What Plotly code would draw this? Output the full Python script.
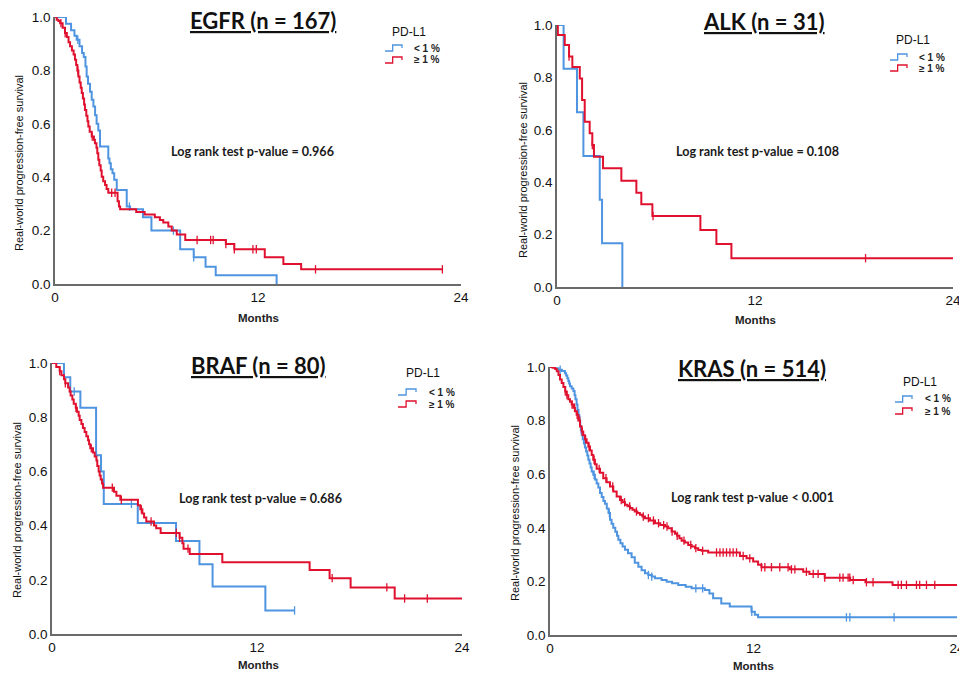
import plotly.graph_objects as go

VW, VH = 967, 681          # browser window
BODY = 8                   # default page margin around the plot div
W, H = VW - BODY, VH - 2 * BODY   # fits the window without scrolling
BLUE = "#4f94e0"
RED = "#e0112f"

# ---------------- data (months, survival probability) ----------------
egfr_lo_t = [0, 0.65, 0.95, 1.15, 1.28, 1.45, 1.6, 1.7, 1.8, 1.87, 1.95, 2.07, 2.17, 2.27, 2.37, 2.46, 2.56, 2.66, 3.15, 3.22,
             3.3, 3.4, 3.5, 3.65, 4.24, 4.44, 5.2, 5.7, 7.4, 8.2, 8.9, 9.5, 13.1]
egfr_lo_s = [1.0, .975, .95, .93, .915, .89, .865, .85, .815, .777, .75, .72, .69, .665, .632, .60, .575, .515, .47, .452,
             .43, .415, .39, .352, .29, .28, .25, .20, .13, .10, .065, .033, 0.0]
egfr_lo_c = [1.35, 4.4, 7.0, 8.2]
egfr_hi_t = [0, 0.1, 0.2, 0.3, 0.45, 0.59, 0.7, 0.8, 0.89, 1.0, 1.1, 1.18, 1.25, 1.32, 1.38, 1.45, 1.52, 1.58, 1.65, 1.72,
             1.77, 1.85, 1.92, 1.97, 2.05, 2.17, 2.3, 2.36, 2.45, 2.5, 2.56, 2.62, 2.7, 2.76, 2.85, 2.96, 3.05, 3.15, 3.7, 3.78,
             3.85, 4.8, 5.3, 5.9, 6.2, 6.4, 6.7, 6.9, 7.2, 7.7, 10.1, 10.6, 12.4, 13.5, 14.55, 22.9]
egfr_hi_s = [1.0, .99, .985, .977, .96, .94, .925, .905, .89, .875, .86, .84, .82, .80, .777, .755, .735, .715, .695, .672,
             .652, .63, .61, .59, .57, .552, .54, .527, .51, .49, .465, .445, .425, .402, .385, .371, .356, .342, .31, .29,
             .28, .27, .26, .25, .24, .23, .215, .20, .185, .165, .15, .13, .10, .075, .055, .055]
egfr_hi_c = [0.35, 0.6, 1.35, 2.2, 3.35, 3.55, 8.4, 9.2, 9.35, 10.1, 10.6, 11.7, 11.9, 15.4, 22.9]

alk_lo_t = [0, 0.4, 1.21, 1.6, 2.59, 2.73, 3.96]
alk_lo_s = [1.0, 0.833, 0.667, 0.5, 0.333, 0.167, 0.0]
alk_lo_c = []
alk_hi_t = [0, 0.05, 0.47, 0.73, 0.93, 1.38, 1.52, 1.68, 1.98, 2.14, 2.24, 2.79, 3.9, 4.81, 5.11, 5.78, 8.69, 9.66, 10.57, 24]
alk_hi_s = [1.0, .962, .924, .88, .84, .796, .714, .631, .587, .542, .497, .453, .406, .36, .316, .271, .218, .164, .11, .11]
alk_hi_c = [0.73, 2.14, 5.82, 18.7]

braf_lo_t = [0, 0.7, 1.07, 1.66, 2.58, 2.87, 3.03, 5.02, 7.26, 8.63, 9.4, 12.49, 14.2]
braf_lo_s = [1.0, .947, .895, .835, .66, .60, .48, .41, .343, .257, .175, .087, .087]
braf_lo_c = [1.3, 2.6, 4.65, 14.2]
braf_hi_t = [0, .25, .45, .55, .70, .78, .94, 1.03, 1.09, 1.19, 1.27, 1.39, 1.46, 1.56, 1.62, 1.72, 1.81, 1.91, 2.01, 2.11,
             2.17, 2.24, 2.40, 2.50, 2.60, 2.65, 2.73, 2.79, 2.85, 2.93, 2.99, 3.63, 3.77, 4.0, 5.03, 5.17, 5.29, 5.39, 5.52, 5.97,
             6.1, 6.36, 7.47, 7.63, 7.7, 8.06, 9.97, 15.08, 16.25, 17.48, 20.06, 24]
braf_hi_s = [1.0, .985, .97, .955, .94, .925, .91, .895, .88, .865, .85, .835, .82, .805, .79, .775, .76, .745, .73, .715,
             .70, .685, .67, .655, .64, .62, .60, .585, .57, .555, .54, .525, .51, .495, .475, .46, .445, .43, .415, .40,
             .39, .373, .355, .335, .315, .295, .265, .236, .206, .172, .131, .131]
braf_hi_c = [0.45, 0.78, 1.4, 2.3, 3.53, 4.06, 5.23, 5.8, 7.28, 7.47, 7.96, 16.4, 19.6, 20.64, 21.97]

kras_lo_t = [0, .3, .5, .7, .88, .95, 1.02, 1.08, 1.13, 1.18, 1.28, 1.38, 1.45, 1.5, 1.57, 1.62, 1.68, 1.73, 1.78, 1.82,
             1.87, 1.93, 2.0, 2.06, 2.13, 2.2, 2.26, 2.33, 2.4, 2.46, 2.55, 2.65, 2.75, 2.85, 2.95, 3.05, 3.15, 3.24, 3.35, 3.45,
             3.54, 3.63, 3.73, 3.85, 3.95, 4.03, 4.15, 4.28, 4.42, 4.6, 4.81, 5.0, 5.21, 5.4, 5.6, 5.8, 6.0, 6.19, 6.58, 6.88,
             7.2, 7.56, 8.0, 8.35, 9.13, 9.4, 9.62, 10.1, 10.6, 11.88, 12.08, 12.27, 24]
kras_lo_s = [1.0, .995, .99, .985, .977, .968, .958, .948, .938, .928, .92, .91, .895, .88, .86, .84, .82, .80, .78, .765,
             .747, .73, .715, .70, .685, .67, .654, .64, .625, .61, .598, .58, .565, .55, .53, .515, .50, .49, .472, .455,
             .43, .415, .40, .385, .37, .355, .342, .33, .318, .305, .29, .27, .255, .242, .23, .224, .218, .212, .205, .199,
             .193, .187, .18, .174, .168, .155, .137, .118, .106, .087, .076, .066, .066]
kras_lo_c = [0.6, 1.75, 1.85, 2.6, 3.5, 5.8, 6.0, 8.6, 9.0, 11.9, 17.48, 17.68, 20.29]
kras_hi_t = [0, .15, .3, .4, .5, .59, .69, .79, .9, .98, 1.08, 1.18, 1.28, 1.38, 1.47, 1.57, 1.67, 1.77, 1.87, 1.96,
             2.06, 2.16, 2.26, 2.36, 2.46, 2.55, 2.65, 2.75, 2.95, 3.14, 3.34, 3.54, 3.73, 3.93, 4.13, 4.28, 4.42, 4.57, 4.72, 4.86,
             5.0, 5.15, 5.3, 5.45, 5.6, 5.9, 6.19, 6.5, 6.78, 6.97, 7.17, 7.37, 7.5, 7.63, 7.76, 7.95, 8.15, 8.35, 8.55, 8.74,
             8.94, 9.33, 11.2, 11.59, 11.98, 12.27, 12.47, 14.14, 14.93, 15.3, 16.2, 17.7, 18.6, 20.2, 24]
kras_hi_s = [1.0, .997, .993, .984, .97, .953, .94, .925, .909, .895, .88, .87, .86, .848, .835, .822, .8, .778, .759, .745,
             .73, .717, .703, .688, .672, .654, .637, .62, .605, .585, .57, .554, .535, .517, .504, .495, .486, .48, .474, .467,
             .461, .455, .449, .442, .436, .427, .417, .41, .405, .398, .386, .378, .37, .361, .352, .345, .336, .33, .324, .3175,
             .314, .308, .295, .286, .274, .262, .253, .245, .236, .228, .214, .205, .197, .187, .187]
kras_hi_c = [0.9, 1.0, 1.3, 1.45, 1.6, 1.75, 1.9, 2.1, 2.3, 2.6, 2.9, 3.3, 3.7, 4.2, 4.4, 4.7, 5.1, 5.5, 5.8, 6.1, 6.4,
             6.7, 6.9, 7.2, 7.5, 7.9, 8.3, 8.6, 9.0, 9.82, 10.02, 10.21, 10.41, 10.61, 10.8, 11.0, 11.39, 11.78, 12.47,
             12.67, 13.06, 13.55, 14.04, 14.24, 14.44, 15.12, 15.52, 15.81, 16.2, 17.09, 17.28, 17.58, 17.68, 17.88,
             18.66, 19.05, 20.53, 20.72, 21.02, 21.61, 21.8, 22.2, 22.69]

titles = ["EGFR (n = 167)", "ALK (n = 31)", "BRAF (n = 80)", "KRAS (n = 514)"]
pvalues = ["Log rank test p-value = 0.966", "Log rank test p-value = 0.108",
           "Log rank test p-value = 0.686", "Log rank test p-value < 0.001"]
groups = ["< 1 %", "≥ 1 %"]
y_ticks = [0, 0.2, 0.4, 0.6, 0.8, 1.0]
x_ticks = [0, 12, 24]

series = [
    (egfr_lo_t, egfr_lo_s, egfr_lo_c, egfr_hi_t, egfr_hi_s, egfr_hi_c),
    (alk_lo_t, alk_lo_s, alk_lo_c, alk_hi_t, alk_hi_s, alk_hi_c),
    (braf_lo_t, braf_lo_s, braf_lo_c, braf_hi_t, braf_hi_s, braf_hi_c),
    (kras_lo_t, kras_lo_s, kras_lo_c, kras_hi_t, kras_hi_s, kras_hi_c),
]
for s in series:
    assert len(s[0]) == len(s[1]) and len(s[3]) == len(s[4])

# ---------------- layout geometry (pixels in the window) ----------------
boxes = [(55, 461, 17, 284), (557, 953, 25, 287), (52, 462, 363, 634), (550, 957, 367, 635)]
title_pos = [(263, 21), (764, 22), (258, 365), (752, 368)]
pval_pos = [(252, 152), (757, 152), (260, 499), (752, 497)]
months_pos = [(258, 318), (755, 320), (258, 665), (753, 666)]
ytitle_pos = [(19, 163), (523, 170), (17, 510), (515, 513)]
# legend: PD-L1 centre, icon x0,x1, text x, blue y, red y
legend_pos = [(409, 32, 385, 402, 412, 48, 60),
              (913, 40, 890, 907, 917, 57, 68),
              (423, 373, 398, 416, 427, 392, 404),
              (920, 382, 895, 912, 923, 399, 411)]


def px(x):
    return (x - BODY) / W


def py(y):
    return 1 - (y - BODY) / H


def surv_at(ts, ss, t):
    v = ss[0]
    for ti, si in zip(ts, ss):
        if ti <= t:
            v = si
    return v


fig = go.Figure()
annotations = []
shapes = []
FONT = "Liberation Sans, Arial, sans-serif"
TFONT = "Lato, Carlito, Calibri, sans-serif"


def ann(x, y, text, font, **kw):
    d = dict(x=px(x), y=py(y), xref="paper", yref="paper", showarrow=False, text=text, font=font,
             xanchor="center", yanchor="middle")
    d.update(kw)
    annotations.append(d)


for i, (lt, ls, lc, ht, hs, hc) in enumerate(series):
    ax = "" if i == 0 else str(i + 1)
    xref, yref = "x" + ax, "y" + ax
    for t, s, c, col in ((lt, ls, lc, BLUE), (ht, hs, hc, RED)):
        fig.add_trace(go.Scatter(x=t, y=s, mode="lines", line=dict(color=col, width=2, shape="hv"),
                                 xaxis=xref, yaxis=yref, showlegend=False, cliponaxis=False, hoverinfo="skip"))
        if c:
            fig.add_trace(go.Scatter(x=c, y=[surv_at(t, s, v) for v in c], mode="markers",
                                     marker=dict(symbol="line-ns-open", size=6, color=col,
                                                 line=dict(color=col, width=1.3)),
                                     xaxis=xref, yaxis=yref, showlegend=False, cliponaxis=False, hoverinfo="skip"))
    x0, x1, yt, yb = boxes[i]
    axis_common = dict(showline=True, linecolor="#6a6a6a", linewidth=1.5, showgrid=False, zeroline=False,
                       ticks="", automargin=False, ticklabeloverflow="allow",
                       tickfont=dict(family=FONT, size=13.5, color="#111"))
    fig.layout["xaxis" + ax] = dict(domain=[px(x0), px(x1)], range=[0, 24], tickvals=x_ticks,
                                    anchor=yref, **axis_common)
    fig.layout["yaxis" + ax] = dict(domain=[py(yb), py(yt)], range=[0, 1.0], tickvals=y_ticks, tickformat=".1f",
                                    anchor=xref, **axis_common)

    cx, cy = title_pos[i]
    ann(cx, cy, "<b><u>" + titles[i] + "</u></b>", dict(family=TFONT, size=22, color="#111"))
    cx, cy = pval_pos[i]
    ann(cx, cy, "<b>" + pvalues[i] + "</b>", dict(family=TFONT, size=12.6, color="#1a1a1a"))
    cx, cy = months_pos[i]
    ann(cx, cy, "<b>Months</b>", dict(family=FONT, size=11.5, color="#222"))
    cx, cy = ytitle_pos[i]
    ann(cx, cy, "Real-world progression-free survival", dict(family=FONT, size=11, color="#111"), textangle=-90)
    lx, ly, ix0, ix1, tx, by, ry = legend_pos[i]
    ann(lx, ly, "PD-L1", dict(family=FONT, size=12, color="#111"))
    for gy, col, lab in ((by, BLUE, groups[0]), (ry, RED, groups[1])):
        ann(tx, gy, "<b>" + lab + "</b>", dict(family=FONT, size=10, color="#222"), xanchor="left")
        xm = ix0 + (ix1 - ix0) * 0.45
        path = "M {a},{b} L {c},{b} L {c},{d} L {e},{d} L {e},{f}".format(
            a=px(ix0), b=py(gy + 3), c=px(xm), d=py(gy - 3), e=px(ix1), f=py(gy))
        shapes.append(dict(type="path", xref="paper", yref="paper", path=path,
                           line=dict(color=col, width=1.3)))

fig.update_layout(width=W, height=H, margin=dict(l=0, r=0, t=0, b=0, autoexpand=False), paper_bgcolor="white",
                  plot_bgcolor="white", annotations=annotations, shapes=shapes, showlegend=False)
fig.write_html("out.html")
